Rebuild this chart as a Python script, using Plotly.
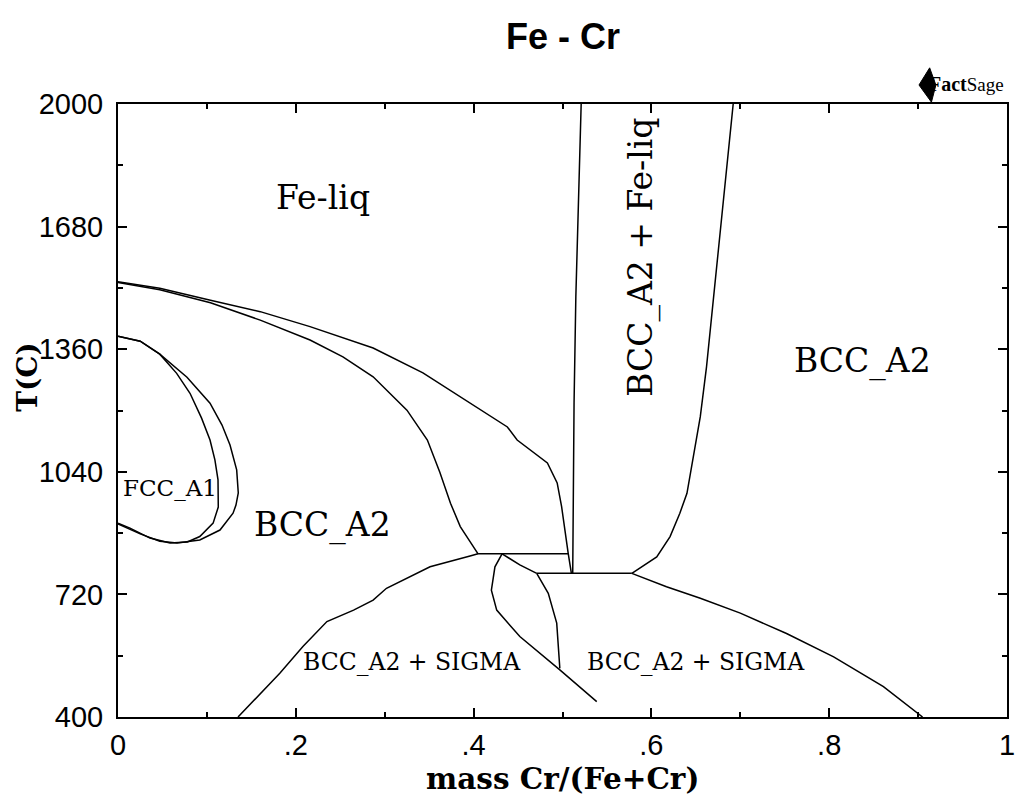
import plotly.graph_objects as go

# ---------------- data (mass fraction Cr, temperature in C) ----------------
liq_upper_x = [0.000, 0.047, 0.104, 0.160, 0.216, 0.250, 0.287, 0.343, 0.399, 0.438, 0.449, 0.466, 0.483, 0.494, 0.499, 0.5065, 0.510]
liq_upper_t = [1536, 1519, 1488, 1458, 1419, 1393, 1363, 1298, 1214, 1157, 1123, 1094, 1063, 1011, 949, 826, 775]

liq_lower_x = [0.000, 0.047, 0.104, 0.160, 0.216, 0.253, 0.287, 0.325, 0.348, 0.362, 0.374, 0.385, 0.405]
liq_lower_t = [1534, 1515, 1481, 1436, 1384, 1340, 1288, 1201, 1123, 1039, 958, 897, 826]

vert_x = [0.521, 0.518, 0.515, 0.513, 0.5115]
vert_t = [2000, 1741, 1497, 1220, 775]

liq_right_x = [0.692, 0.685, 0.677, 0.670, 0.662, 0.655, 0.647, 0.640, 0.632, 0.621, 0.606, 0.578]
liq_right_t = [2000, 1836, 1663, 1488, 1314, 1184, 1071, 984, 932, 871, 818, 775]

tie1_x = [0.405, 0.5065]
tie1_t = [826, 826]
tie2_x = [0.471, 0.578]
tie2_t = [775, 775]

sigma_left_x = [0.135, 0.160, 0.182, 0.208, 0.235, 0.265, 0.287, 0.302, 0.340, 0.351, 0.396, 0.405]
sigma_left_t = [400, 462, 514, 584, 649, 679, 705, 736, 779, 792, 820, 826]

sigma_right_x = [0.578, 0.617, 0.655, 0.700, 0.752, 0.805, 0.861, 0.905]
sigma_right_t = [775, 740, 710, 671, 618, 557, 479, 400]

sigma_a_x = [0.432, 0.424, 0.420, 0.426, 0.452, 0.497, 0.5385]
sigma_a_t = [826, 792, 731, 679, 610, 523, 440]

sigma_b_x = [0.432, 0.452, 0.471]
sigma_b_t = [826, 797, 775]

sigma_c_x = [0.471, 0.484, 0.4935, 0.497]
sigma_c_t = [775, 723, 645, 527]

fcc_inner_x = [0.000, 0.025, 0.047, 0.066, 0.081, 0.094, 0.1035, 0.109, 0.1125, 0.1128, 0.1128, 0.107, 0.092, 0.078, 0.0585, 0.036, 0.0135, 0.000]
fcc_inner_t = [1394, 1381, 1347, 1297, 1245, 1180, 1123, 1071, 1019, 966, 948, 906, 871, 857, 854, 867, 893, 906]

fcc_outer_x = [0.000, 0.025, 0.047, 0.0776, 0.1035, 0.117, 0.126, 0.1335, 0.1353, 0.1327, 0.1294, 0.1147, 0.092, 0.0664, 0.047, 0.025, 0.000]
fcc_outer_t = [1394, 1381, 1347, 1287, 1219, 1162, 1110, 1045, 985, 953, 932, 888, 862, 854, 859, 878, 904]

boundaries = [
    (liq_upper_x, liq_upper_t), (liq_lower_x, liq_lower_t), (vert_x, vert_t),
    (liq_right_x, liq_right_t), (tie1_x, tie1_t), (tie2_x, tie2_t),
    (sigma_left_x, sigma_left_t), (sigma_right_x, sigma_right_t),
    (sigma_a_x, sigma_a_t), (sigma_b_x, sigma_b_t), (sigma_c_x, sigma_c_t),
    (fcc_inner_x, fcc_inner_t), (fcc_outer_x, fcc_outer_t),
]

# phase labels: text, x, T, size, angle
label_text = ["Fe-liq", "BCC_A2", "BCC_A2", "FCC_A1", "BCC_A2 + SIGMA", "BCC_A2 + SIGMA", "BCC_A2 + Fe-liq"]
label_x = [0.2306, 0.837, 0.2295, 0.0585, 0.3307, 0.650, 0.589]
label_t = [1755, 1329, 901, 998, 544, 544, 1600]
label_size = [33, 33, 33, 23, 23.5, 23.5, 33]
label_angle = [0, 0, 0, 0, 0, 0, -90]

x_tickvals = [0, 0.2, 0.4, 0.6, 0.8, 1.0]
x_ticktext = ["0", ".2", ".4", ".6", ".8", "1"]
y_tickvals = [400, 720, 1040, 1360, 1680, 2000]
y_ticktext = ["400", "720", "1040", "1360", "1680", "2000"]

# ---------------- figure ----------------
fig = go.Figure()
for bx, bt in boundaries:
    fig.add_trace(go.Scatter(x=bx, y=bt, mode="lines",
                             line=dict(color="black", width=1.5),
                             showlegend=False, hoverinfo="skip"))

for txt, lx, lt, sz, ang in zip(label_text, label_x, label_t, label_size, label_angle):
    fig.add_annotation(x=lx, y=lt, xref="x", yref="y", text=txt, showarrow=False,
                       textangle=ang, xanchor="center", yanchor="middle",
                       font=dict(family="DejaVu Serif", size=sz, color="black"))

axis_common = dict(showline=True, linewidth=2, linecolor="black", mirror="ticks",
                   ticks="inside", ticklen=9, tickwidth=1.5, tickcolor="black",
                   showgrid=False, zeroline=False, automargin=False,
                   tickfont=dict(family="Liberation Sans", size=29, color="black"))

fig.update_xaxes(range=[0, 1], tickvals=x_tickvals, ticktext=x_ticktext,
                 minor=dict(dtick=0.1, ticks="inside", ticklen=5, tickwidth=1.5, tickcolor="black", showgrid=False),
                 ticklabelstandoff=1, **axis_common)
fig.update_yaxes(range=[400, 2000], tickvals=y_tickvals, ticktext=y_ticktext,
                 minor=dict(tick0=400, dtick=160, ticks="inside", ticklen=5, tickwidth=1.5, tickcolor="black", showgrid=False),
                 ticklabelstandoff=7, **axis_common)

# titles
fig.add_annotation(xref="paper", yref="paper", x=0.5, y=1, yshift=68, text="<b>Fe - Cr</b>",
                   showarrow=False, xanchor="center", yanchor="middle",
                   font=dict(family="Liberation Sans", size=36, color="black"))
fig.add_annotation(xref="paper", yref="paper", x=0.5, y=0, yshift=-61, text="<b>mass Cr/(Fe+Cr)</b>",
                   showarrow=False, xanchor="center", yanchor="middle",
                   font=dict(family="DejaVu Serif", size=29.5, color="black"))
fig.add_annotation(xref="paper", yref="paper", x=0, y=0.555, xshift=-90, text="<b>T(C)</b>",
                   showarrow=False, xanchor="center", yanchor="middle", textangle=-90,
                   font=dict(family="DejaVu Serif", size=28, color="black"))

# FactSage logo
fig.add_shape(type="path", xref="paper", yref="paper",
              path="M 0.913 1.059 L 0.901 1.031 L 0.915 1.003 L 0.920 1.031 Z",
              fillcolor="black", line=dict(color="black", width=1))
fig.add_annotation(xref="paper", yref="paper", x=1, y=1, xshift=-1, yshift=20,
                   text="<b>Fact</b><span style='font-size:19px'>Sage</span>",
                   showarrow=False, xanchor="right", yanchor="middle",
                   font=dict(family="Liberation Serif", size=20, color="black"))

fig.update_layout(width=1018, height=799, margin=dict(l=118, r=11, t=104, b=82),
                  plot_bgcolor="white", paper_bgcolor="white", showlegend=False)

fig.write_html("out.html")
